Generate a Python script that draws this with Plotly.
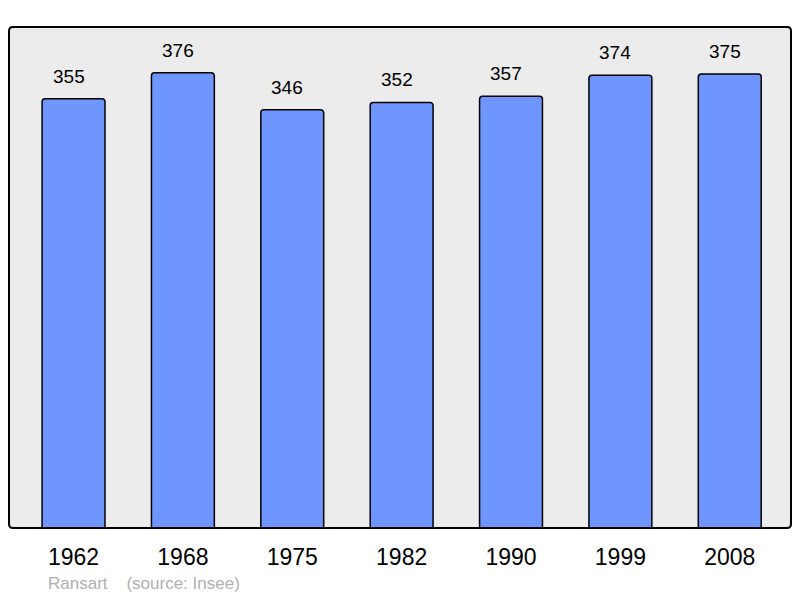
import plotly.graph_objects as go

years = ["1962", "1968", "1975", "1982", "1990", "1999", "2008"]
population = [355, 376, 346, 352, 357, 374, 375]

FONT = "Liberation Sans, Arial, sans-serif"

fig = go.Figure()
fig.add_trace(go.Bar(
    x=years, y=population,
    width=0.575,
    marker=dict(color="#6f96ff", line=dict(color="#000000", width=1.5), cornerradius=3),
    hoverinfo="x+y",
))

for i, v in enumerate(population):
    fig.add_annotation(x=i, y=v, xref="x", yref="y", text=str(v), showarrow=False,
                       yanchor="bottom", yshift=10, xshift=-5,
                       font=dict(family=FONT, size=19, color="#000000"))

fig.add_annotation(xref="paper", yref="paper", x=0.0475, y=-0.11, xanchor="left", yanchor="middle",
                   text="Ransart&nbsp;&nbsp;&nbsp;&nbsp;(source: Insee)", showarrow=False,
                   font=dict(family=FONT, size=17, color="#b0b0b0"))

# rounded frame
W, H = 782.0, 501.0
r = 4.0
rx, ry = r / W, r / H
path = (f"M {rx},0 L {1-rx},0 Q 1,0 1,{ry} L 1,{1-ry} Q 1,1 {1-rx},1 "
        f"L {rx},1 Q 0,1 0,{1-ry} L 0,{ry} Q 0,0 {rx},0 Z")
fig.add_shape(type="path", xref="paper", yref="paper", path=path,
              line=dict(color="#000000", width=2), layer="above")

fig.update_layout(
    width=792, height=590,
    margin=dict(l=1, r=9, t=19, b=70),
    paper_bgcolor="#ffffff", plot_bgcolor="#ececec",
    showlegend=False, bargap=0.4,
    font=dict(family=FONT),
    xaxis=dict(type="category", range=[-0.59, 6.56], showgrid=False, zeroline=False, ticks="outside",
               ticklen=8, tickcolor="rgba(0,0,0,0)", tickfont=dict(family=FONT, size=23, color="#000000")),
    yaxis=dict(range=[7.6, 413], showgrid=False, zeroline=False, showticklabels=False, ticks=""),
)

fig.write_html("out.html")
